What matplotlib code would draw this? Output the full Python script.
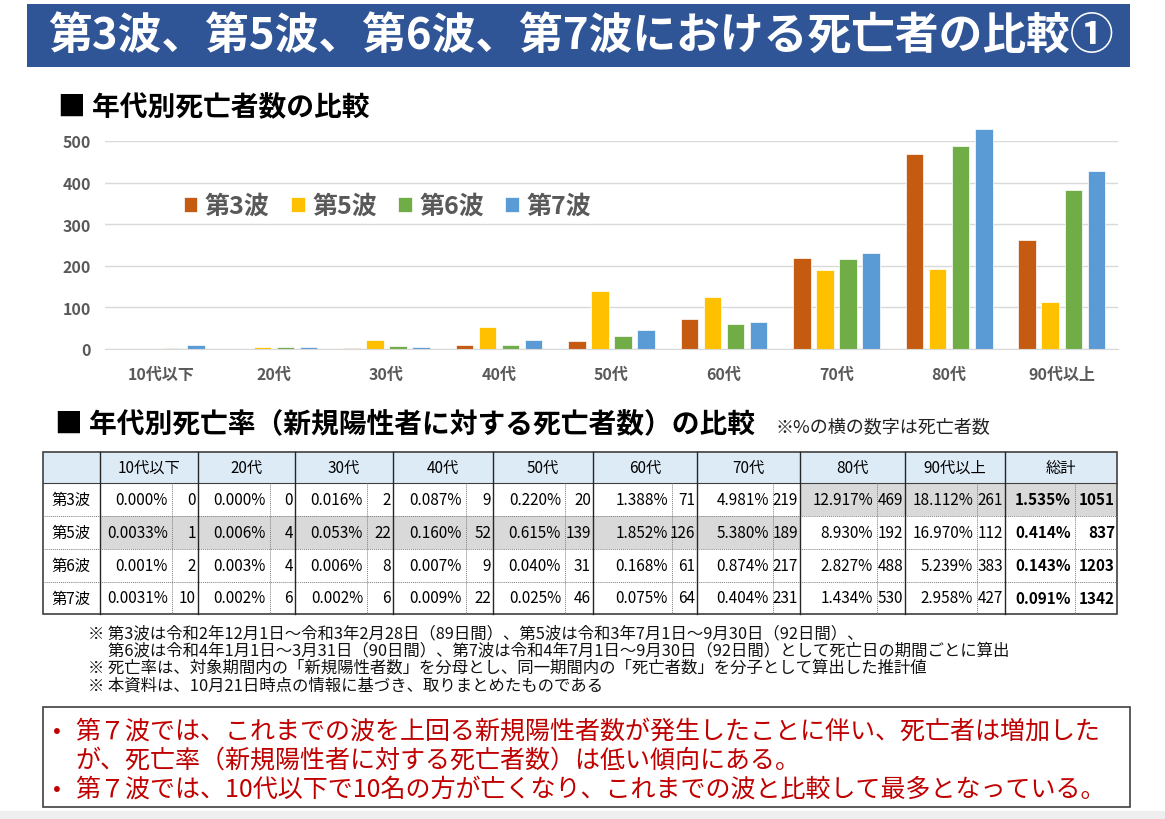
import matplotlib
matplotlib.use("Agg")
import matplotlib.pyplot as plt
from matplotlib.patches import Rectangle
from matplotlib.lines import Line2D
import numpy as np

plt.rcParams['font.family'] = ['Noto Sans CJK JP', 'DejaVu Sans']

# ---- data ----
ages = ['10代以下', '20代', '30代', '40代', '50代', '60代', '70代', '80代', '90代以上']
waves = ['第3波', '第5波', '第6波', '第7波']
deaths_3 = [0, 0, 2, 9, 20, 71, 219, 469, 261]
deaths_5 = [1, 4, 22, 52, 139, 126, 189, 192, 112]
deaths_6 = [2, 4, 8, 9, 31, 61, 217, 488, 383]
deaths_7 = [10, 6, 6, 22, 46, 64, 231, 530, 427]
rate_3 = ['0.000%', '0.000%', '0.016%', '0.087%', '0.220%', '1.388%', '4.981%', '12.917%', '18.112%']
rate_5 = ['0.0033%', '0.006%', '0.053%', '0.160%', '0.615%', '1.852%', '5.380%', '8.930%', '16.970%']
rate_6 = ['0.001%', '0.003%', '0.006%', '0.007%', '0.040%', '0.168%', '0.874%', '2.827%', '5.239%']
rate_7 = ['0.0031%', '0.002%', '0.002%', '0.009%', '0.025%', '0.075%', '0.404%', '1.434%', '2.958%']
total_rate = ['1.535%', '0.414%', '0.143%', '0.091%']
total_deaths = [1051, 837, 1203, 1342]
yticks = [0, 100, 200, 300, 400, 500]

deaths = [deaths_3, deaths_5, deaths_6, deaths_7]
rates = [rate_3, rate_5, rate_6, rate_7]
colors = ['#C55A11', '#FFC000', '#70AD47', '#5B9BD5']

title = '第3波、第5波、第6波、第7波における死亡者の比較①'
sub1 = '■ 年代別死亡者数の比較'
sub2 = '■ 年代別死亡率（新規陽性者に対する死亡者数）の比較'
sub2_note = '※%の横の数字は死亡者数'
notes = [
    '※ 第3波は令和2年12月1日～令和3年2月28日（89日間）、第5波は令和3年7月1日～9月30日（92日間）、',
    '　 第6波は令和4年1月1日～3月31日（90日間）、第7波は令和4年7月1日～9月30日（92日間）として死亡日の期間ごとに算出',
    '※ 死亡率は、対象期間内の「新規陽性者数」を分母とし、同一期間内の「死亡者数」を分子として算出した推計値',
    '※ 本資料は、10月21日時点の情報に基づき、取りまとめたものである',
]
points = [
    ['第７波では、これまでの波を上回る新規陽性者数が発生したことに伴い、死亡者は増加した',
     'が、死亡率（新規陽性者に対する死亡者数）は低い傾向にある。'],
    ['第７波では、10代以下で10名の方が亡くなり、これまでの波と比較して最多となっている。'],
]

W, H = 1165, 820
fig = plt.figure(figsize=(W / 100, H / 100), dpi=100)


def fx(x):
    return x / W


def fy(y):
    return 1 - y / H


def box(x0, y0, x1, y1, **kw):
    fig.patches.append(Rectangle((fx(x0), fy(y1)), (x1 - x0) / W, (y1 - y0) / H,
                                 transform=fig.transFigure, **kw))


def hline(x0, x1, y, **kw):
    fig.lines.append(Line2D([fx(x0), fx(x1)], [fy(y), fy(y)], transform=fig.transFigure, **kw))


def vline(x, y0, y1, **kw):
    fig.lines.append(Line2D([fx(x), fx(x)], [fy(y0), fy(y1)], transform=fig.transFigure, **kw))


# title banner
box(27, 5, 1130, 68, facecolor='#2F5597', edgecolor='none')
fig.text(fx(581), fy(37), title, color='white', fontsize=31.5, fontweight='bold',
         ha='center', va='center')

fig.text(fx(58), fy(108), sub1, fontsize=20, fontweight='bold', ha='left', va='center')

# ---- bar chart ----
ax = fig.add_axes([fx(105), fy(350), (1118 - 105) / W, (350 - 142) / H])
x = np.arange(len(ages))
bw = 0.155
for i, (w, d, c) in enumerate(zip(waves, deaths, colors)):
    ax.bar(x + (i - 1.5) * 0.205, d, bw, color=c, label=w, clip_on=False,
           edgecolor='white', linewidth=0.5)
ax.set_xlim(-0.5, len(ages) - 0.5)
ax.set_ylim(0, 500)
ax.set_yticks(yticks)
ax.set_xticks(x)
ax.set_xticklabels(ages)
for s in ax.spines.values():
    s.set_visible(False)
ax.spines['bottom'].set_visible(True)
ax.spines['bottom'].set_color('#D9D9D9')
ax.grid(axis='y', color='#D9D9D9', linewidth=1)
ax.set_axisbelow(True)
ax.tick_params(length=0, labelsize=11.5, labelcolor='#595959', pad=10)
ax.tick_params(axis='x', pad=12)
for t in ax.get_xticklabels() + ax.get_yticklabels():
    t.set_fontweight('bold')
leg = ax.legend(ncol=4, loc='center left', bbox_to_anchor=(fx(161), fy(207)),
                bbox_transform=fig.transFigure, frameon=False,
                prop={'size': 18, 'weight': 'bold'}, labelcolor='#595959',
                handlelength=0.55, handleheight=0.55, handletextpad=0.3, columnspacing=0.85)

# ---- table ----
fig.text(fx(55), fy(424), sub2, fontsize=20, fontweight='bold', ha='left', va='center')
fig.text(fx(775), fy(427), sub2_note, fontsize=13, ha='left', va='center', color='#222222')

col_edges = [43, 100, 198, 295, 393, 493, 593, 697, 800, 905, 1005, 1117]
splits = [172, 270, 367, 466, 565, 672, 773, 877, 977, 1075]
row_edges = [453, 484, 517, 550, 583, 615]
grey = '#D9D9D9'

box(43, 453, 1117, 484, facecolor='#DDEBF7', edgecolor='none')
for r in range(4):
    y0, y1 = row_edges[r + 1], row_edges[r + 2]
    for c in range(10):
        shaded = (r == 1 and c <= 6) or (r == 0 and c >= 7)
        if shaded:
            box(col_edges[c + 1], y0, col_edges[c + 2], y1, facecolor=grey, edgecolor='none')

hy = (row_edges[0] + row_edges[1]) / 2
for c, lab in enumerate(ages + ['総計']):
    fig.text(fx((col_edges[c + 1] + col_edges[c + 2]) / 2), fy(hy), lab, fontsize=11,
             ha='center', va='center')

for r in range(4):
    yc = (row_edges[r + 1] + row_edges[r + 2]) / 2
    fig.text(fx(71), fy(yc), waves[r], fontsize=11, ha='center', va='center')
    vals = [(rates[r][c], deaths[r][c]) for c in range(9)] + [(total_rate[r], total_deaths[r])]
    for c, (rt, dn) in enumerate(vals):
        wt = 'bold' if c == 9 else 'normal'
        fig.text(fx(splits[c] - 4), fy(yc), rt, fontsize=11, ha='right', va='center', fontweight=wt)
        fig.text(fx(col_edges[c + 2] - 2), fy(yc), str(dn), fontsize=11, ha='right', va='center',
                 fontweight=wt)

# grid lines of the table
for yy in row_edges[2:-1]:
    hline(43, 1117, yy, color='#7F7F7F', linewidth=0.7, linestyle=(0, (1, 1)))
hline(43, 1117, row_edges[1], color='#404040', linewidth=0.8)
for xx in splits:
    vline(xx, row_edges[1], row_edges[-1], color='#7F7F7F', linewidth=0.7, linestyle=(0, (1, 1)))
for xx in col_edges[1:-1]:
    vline(xx, row_edges[0], row_edges[-1], color='#262626', linewidth=1.0)
box(43, 453, 1117, 615, facecolor='none', edgecolor='#404040', linewidth=1.2)

# ---- notes ----
for i, line in enumerate(notes):
    fig.text(fx(88), fy(634 + i * 17.3), line, fontsize=11.8, ha='left', va='center',
             color='#111111')

# ---- summary box ----
box(43, 708, 1130, 808, facecolor='white', edgecolor='#404040', linewidth=1.2)
red = '#C00000'
yy = 732
for p in points:
    fig.text(fx(53), fy(yy), '•', fontsize=17, ha='left', va='center', color=red)
    for line in p:
        fig.text(fx(75), fy(yy), line, fontsize=18, ha='left', va='center', color=red)
        yy += 29

box(0, 812, 1165, 820, facecolor='#EEEEEE', edgecolor='none')

fig.savefig('out.png', dpi=100)
